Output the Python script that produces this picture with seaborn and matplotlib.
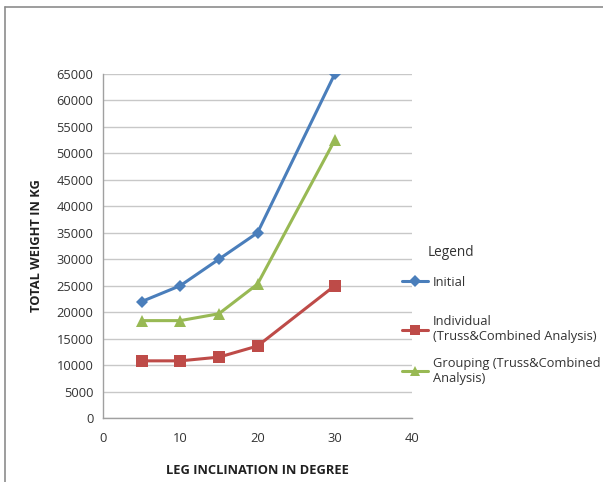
import matplotlib.pyplot as plt
import matplotlib.lines as mlines
import pandas as pd
import seaborn as sns

# Values
inclination = [5, 10, 15, 20, 30]
initial = [22000, 25000, 30000, 35000, 65000]
individual = [10800, 10800, 11500, 13600, 25000]
grouping = [18400, 18400, 19700, 25300, 52500]

series_names = [
    "Initial",
    "Individual\n(Truss&Combined Analysis)",
    "Grouping (Truss&Combined\nAnalysis)",
]
colors = ["#4A7EBB", "#BE4B48", "#98B954"]
markers = ["D", "s", "^"]

frames = []
for name, vals in zip(series_names, [initial, individual, grouping]):
    frames.append(pd.DataFrame({"deg": inclination, "kg": vals, "series": name}))
df = pd.concat(frames, ignore_index=True)

sns.set_style("white")
plt.rcParams["font.family"] = ["Open Sans", "DejaVu Sans"]

fig = plt.figure(figsize=(6.03, 4.82), dpi=100)
ax = fig.add_axes([103 / 603, 1 - 418 / 482, 309 / 603, 344 / 482])

sns.lineplot(
    data=df, x="deg", y="kg", hue="series", style="series",
    hue_order=series_names, style_order=series_names,
    palette=dict(zip(series_names, colors)),
    markers=dict(zip(series_names, markers)),
    dashes=False, linewidth=2.2, markersize=8, markeredgewidth=0,
    ax=ax, legend=False,
)
# diamonds look a bit smaller in the original
for line in ax.lines[:1]:
    line.set_markersize(6.5)

ax.set_xlim(0, 40)
ax.set_ylim(0, 65000)
ax.set_xticks(range(0, 41, 10))
ax.set_yticks(range(0, 65001, 5000))
ax.yaxis.grid(True, color="#c8c8c8", linewidth=1)
ax.xaxis.grid(False)
for s in ["top", "right"]:
    ax.spines[s].set_visible(False)
for s in ["left", "bottom"]:
    ax.spines[s].set_color("#a0a0a0")
    ax.spines[s].set_linewidth(1)
ax.tick_params(axis="y", labelsize=9.3, colors="#333333", length=0, pad=7)
ax.tick_params(axis="x", labelsize=9.3, colors="#333333", length=0, pad=10)
ax.set_xlabel("LEG INCLINATION IN DEGREE", fontsize=9.3, fontweight="bold",
              color="#202020", labelpad=14)
ax.set_ylabel("TOTAL WEIGHT IN KG", fontsize=9.3, fontweight="bold",
              color="#202020", labelpad=10)

handles = [
    plt.Line2D([], [], color=c, marker=m, linewidth=2.2,
               markersize=(6 if m == "D" else 7), markeredgewidth=0)
    for c, m in zip(colors, markers)
]
leg_kw = dict(frameon=False, fontsize=9.3, handlelength=2.0, handletextpad=0.4,
              borderpad=0, borderaxespad=0, loc="center left")
# Excel spaces the single-line entry further from the others, so two legends
leg1 = fig.legend(handles[:1], series_names[:1],
                  bbox_to_anchor=(402 / 603, 1 - 282 / 482), **leg_kw)
leg2 = fig.legend(handles[1:], series_names[1:], labelspacing=1.05,
                  bbox_to_anchor=(402 / 603, 1 - 350 / 482), **leg_kw)
for leg in (leg1, leg2):
    for t in leg.get_texts():
        t.set_color("#333333")
fig.text(428 / 603, 1 - 252 / 482, "Legend", fontsize=9.8, color="#333333",
         va="center", ha="left")

# chart-area border: only the top and left edges show in the crop
border = dict(transform=fig.transFigure, color="#8c8c8c", linewidth=1.2)
fig.lines.append(mlines.Line2D([5 / 603, 1], [1 - 7 / 482] * 2, **border))
fig.lines.append(mlines.Line2D([5 / 603] * 2, [0, 1 - 7 / 482], **border))

fig.savefig("out.png", dpi=100)
